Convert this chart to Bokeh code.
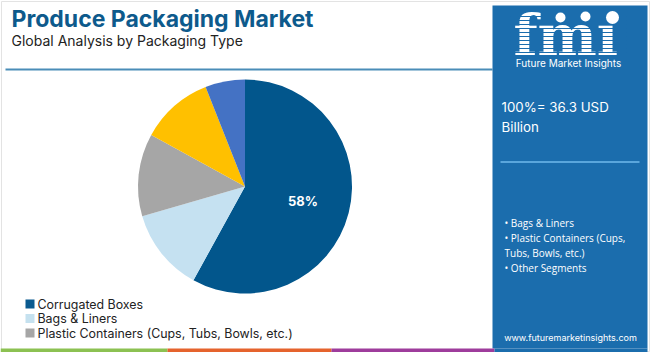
import math
from bokeh.plotting import figure
from bokeh.models import Range1d, ColumnDataSource
from bokeh.core.properties import value
from bokeh.embed import file_html
from bokeh.resources import INLINE

# ---- data ----
title = "Produce Packaging Market"
subtitle = "Global Analysis by Packaging Type"
categories = ["Corrugated Boxes", "Bags & Liners", "Plastic Containers (Cups, Tubs, Bowls, etc.)",
              "Other Segment A", "Other Segment B"]
shares = [58, 12.5, 12.5, 11, 6]
slice_colors = ["#02568c", "#c5e1f1", "#a6a6a6", "#ffc000", "#4472c4"]
legend_labels = ["Corrugated Boxes", "Bags & Liners", "Plastic Containers (Cups, Tubs, Bowls, etc.)"]
legend_colors = ["#0a5a8f", "#c5e1ef", "#a6a6a6"]
total_lines = ["100%= 36.3 USD", "Billion"]
bullet_lines = ["\u2022 Bags & Liners", "\u2022 Plastic Containers (Cups,", "Tubs, Bowls, etc.)", "\u2022 Other Segments"]
url = "www.futuremarketinsights.com"
strip_colors = ["#8cc152", "#e5632d", "#9e3c9c", "#1b6dad"]

W, H = 650, 352
PANEL = "#1b6dad"
def Y(py):
    return H - py

p = figure(width=W, height=H, output_backend="svg", toolbar_location=None,
           x_range=Range1d(0, W), y_range=Range1d(0, H), min_border=0)
p.axis.visible = False
p.grid.visible = False
p.outline_line_color = None
p.background_fill_color = "white"
p.border_fill_color = "white"

# outer border
p.quad(left=[1], right=[W - 1], bottom=[Y(H - 1)], top=[Y(1)], fill_color=None,
       line_color="#e3e3e3", line_width=1)

# title
p.text(x=[11], y=[Y(18)], text=[title], text_font=value("Inter"), text_font_style="bold",
       text_font_size="23px", text_color="#0d5a8c", text_baseline="middle")
p.text(x=[11], y=[Y(40)], text=[subtitle], text_font=value("Inter"),
       text_font_size="14px", text_color="#222222", text_baseline="middle")
p.segment(x0=[5], y0=[Y(69)], x1=[492], y1=[Y(69)], line_color="#4a8db8", line_width=2)

# pie
cx, cy, r = 244.5, Y(186), 107
total = sum(shares)
cum = 0
starts, ends = [], []
for s in shares:
    starts.append(math.pi / 2 - 2 * math.pi * cum / total)
    cum += s
    ends.append(math.pi / 2 - 2 * math.pi * cum / total)
src = ColumnDataSource(dict(start=starts, end=ends, color=slice_colors))
p.wedge(x=cx, y=cy, radius=r, start_angle="start", end_angle="end", direction="clock",
        fill_color="color", line_color=None, source=src)
mid = (starts[0] + ends[0]) / 2
p.text(x=[cx + 0.56 * r * math.cos(mid)], y=[cy + 0.56 * r * math.sin(mid)],
       text=["%d%%" % round(shares[0] / total * 100)], text_font=value("Inter"),
       text_font_style="bold", text_font_size="13px", text_color="white",
       text_align="center", text_baseline="middle")

# legend
for i, (lab, col) in enumerate(zip(legend_labels, legend_colors)):
    yy = Y(303.5 + i * 14.5)
    p.rect(x=[29.5], y=[yy], width=9, height=9, fill_color=col, line_color=None)
    p.text(x=[37], y=[yy], text=[lab], text_font=value("Inter"), text_font_size="12.4px",
           text_color="#222222", text_baseline="middle")

# right panel
p.quad(left=[492], right=[647], bottom=[Y(348)], top=[Y(5)], fill_color=PANEL, line_color=None)

# logo
p.text(x=[513], y=[Y(67)], text=["fm\u0131"], text_font=value("DejaVu Serif"), text_font_style="bold",
       text_font_size="56px", text_color="white", text_baseline="bottom")
for k in range(16, 56, 4):
    p.segment(x0=[510], y0=[Y(k)], x1=[626], y1=[Y(k)], line_color=PANEL, line_width=1)
p.circle(x=[560, 585, 612], y=[Y(17), Y(16), Y(17)], radius=[5, 5, 6.5], fill_color="white", line_color=None)
p.text(x=[568], y=[Y(62)], text=["Future Market Insights"], text_font=value("Inter"),
       text_font_size="10px", text_color="white", text_align="center", text_baseline="middle")

for i, t in enumerate(total_lines):
    p.text(x=[501], y=[Y(106 + i * 20)], text=[t], text_font=value("Inter"), text_font_size="13.3px",
           text_color="white", text_baseline="middle")
p.segment(x0=[500], y0=[Y(161.5)], x1=[639], y1=[Y(161.5)], line_color="#5aa6dc", line_width=2)

for i, t in enumerate(bullet_lines):
    p.text(x=[504], y=[Y(222 + i * 15)], text=[t], text_font=value("Open Sans"), text_font_size="10px",
           text_color="white", text_baseline="middle")

p.text(x=[570], y=[Y(337)], text=[url], text_font=value("Inter"), text_font_size="9px",
       text_color="white", text_align="center", text_baseline="middle")

# bottom strip
edges = [0, 167, 331, 494, 647]
p.quad(left=edges[:-1], right=edges[1:], bottom=[Y(352)] * 4, top=[Y(348)] * 4,
       fill_color=strip_colors, line_color=None)

open("out.html", "w").write(file_html(p, INLINE))
